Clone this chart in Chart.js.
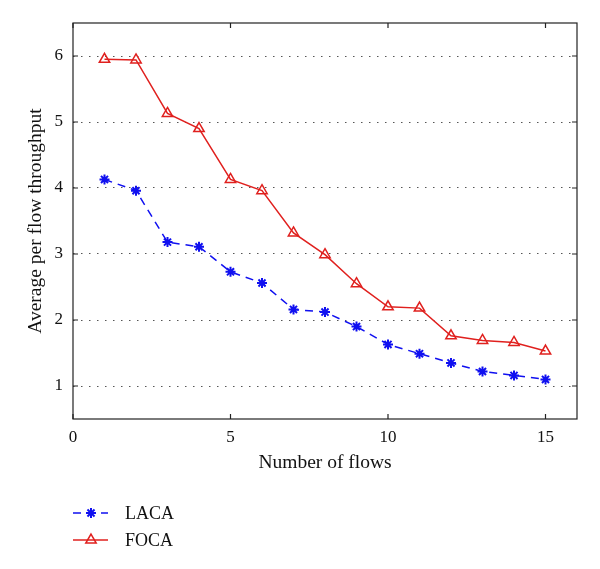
<!DOCTYPE html>
<html>
<head>
<meta charset="utf-8">
<script src="https://cdn.jsdelivr.net/npm/chart.js@4"></script>
<style>
  html, body { margin: 0; padding: 0; background: #fff; }
  #wrap { width: 600px; height: 569px; position: relative; }
</style>
</head>
<body>
<div id="wrap"><canvas id="grafico"></canvas></div>
<script>
const flows = [1, 2, 3, 4, 5, 6, 7, 8, 9, 10, 11, 12, 13, 14, 15];
const laca = [4.13, 3.96, 3.18, 3.11, 2.73, 2.56, 2.16, 2.12, 1.90, 1.63, 1.49, 1.35, 1.22, 1.16, 1.10];
const foca = [5.95, 5.94, 5.13, 4.90, 4.13, 3.96, 3.32, 2.99, 2.55, 2.20, 2.18, 1.76, 1.69, 1.66, 1.53];
const xTicks = [0, 5, 10, 15];
const yTicks = [1, 2, 3, 4, 5, 6];

const serif = "'Liberation Serif', 'Times New Roman', serif";

// moldura com marcas de escala para dentro (estilo matlab)
const framePlugin = {
  id: 'frame',
  afterDatasetsDraw(chart) {
    const { ctx, chartArea: a, scales } = chart;
    ctx.save();
    ctx.strokeStyle = '#222';
    ctx.lineWidth = 1.2;
    ctx.strokeRect(a.left, a.top, a.right - a.left, a.bottom - a.top);
    const len = 5;
    ctx.beginPath();
    scales.x.ticks.forEach(t => {
      const px = scales.x.getPixelForValue(t.value);
      ctx.moveTo(px, a.bottom); ctx.lineTo(px, a.bottom - len);
      ctx.moveTo(px, a.top); ctx.lineTo(px, a.top + len);
    });
    scales.y.ticks.forEach(t => {
      const py = scales.y.getPixelForValue(t.value);
      ctx.moveTo(a.left, py); ctx.lineTo(a.left + len, py);
      ctx.moveTo(a.right, py); ctx.lineTo(a.right - len, py);
    });
    ctx.stroke();
    ctx.restore();
  }
};

// legenda vertical embaixo, do lado esquerdo
const legendPlugin = {
  id: 'legendaBaixo',
  afterDraw(chart) {
    const ctx = chart.ctx;
    const x0 = chart.chartArea.left;
    chart.data.datasets.forEach((ds, i) => {
      const y = 513 + i * 27;
      ctx.save();
      ctx.strokeStyle = ds.borderColor;
      ctx.lineWidth = ds.borderWidth;
      ctx.setLineDash(ds.borderDash || []);
      ctx.beginPath();
      ctx.moveTo(x0, y);
      ctx.lineTo(x0 + 35, y);
      ctx.stroke();
      ctx.setLineDash([]);
      ctx.strokeStyle = ds.pointBorderColor;
      ctx.fillStyle = ds.pointBackgroundColor || ds.pointBorderColor;
      ctx.lineWidth = ds.pointBorderWidth;
      Chart.helpers.drawPoint(ctx, {
        pointStyle: ds.pointStyle,
        radius: ds.pointRadius,
        borderWidth: ds.pointBorderWidth,
        rotation: 0
      }, x0 + 18, y);
      ctx.fillStyle = '#111';
      ctx.font = "18px " + serif;
      ctx.textBaseline = 'middle';
      ctx.fillText(ds.label, x0 + 52, y + 1);
      ctx.restore();
    });
  }
};

const ctx = document.getElementById('grafico').getContext('2d');
new Chart(ctx, {
  type: 'line',
  data: {
    datasets: [
      {
        label: 'LACA',
        data: flows.map((f, i) => ({ x: f, y: laca[i] })),
        borderColor: '#1010f0',
        backgroundColor: '#1010f0',
        borderWidth: 1.5,
        borderDash: [8, 6],
        pointStyle: 'star',
        pointRadius: 5,
        pointBorderWidth: 2,
        pointBorderColor: '#1010f0',
        pointBackgroundColor: '#1010f0'
      },
      {
        label: 'FOCA',
        data: flows.map((f, i) => ({ x: f, y: foca[i] })),
        borderColor: '#e0201e',
        backgroundColor: 'rgba(255,255,255,0)',
        borderWidth: 1.5,
        pointStyle: 'triangle',
        pointRadius: 6,
        pointBorderWidth: 1.5,
        pointBorderColor: '#e0201e',
        pointBackgroundColor: 'rgba(255,255,255,0)'
      }
    ]
  },
  options: {
    responsive: true,
    maintainAspectRatio: false,
    animation: false,
    layout: { padding: { left: 20, right: 23, top: 23, bottom: 91 } },
    plugins: {
      legend: { display: false },
      tooltip: { enabled: false }
    },
    scales: {
      x: {
        type: 'linear',
        min: 0,
        max: 16,
        afterBuildTicks: s => { s.ticks = xTicks.map(v => ({ value: v })); },
        afterFit: s => { s.height = 59; },
        grid: { display: false, drawTicks: false },
        border: { display: false },
        ticks: { color: '#111', padding: 8, font: { family: serif, size: 17 } },
        title: {
          display: true,
          text: 'Number of flows',
          color: '#111',
          font: { family: serif, size: 19.5 },
          padding: { top: 0, bottom: 3 }
        }
      },
      y: {
        min: 0.5,
        max: 6.5,
        afterBuildTicks: s => { s.ticks = yTicks.map(v => ({ value: v })); },
        afterFit: s => { s.width = 53; },
        grid: {
          color: '#555',
          lineWidth: 1,
          drawTicks: false
        },
        border: { display: false, dash: [1.5, 6.5] },
        ticks: { color: '#111', padding: 10, font: { family: serif, size: 17 } },
        title: {
          display: true,
          text: 'Average per flow throughput',
          color: '#111',
          font: { family: serif, size: 19.5 },
          padding: { top: 4, bottom: 0 }
        }
      }
    }
  },
  plugins: [framePlugin, legendPlugin]
});
</script>
</body>
</html>
